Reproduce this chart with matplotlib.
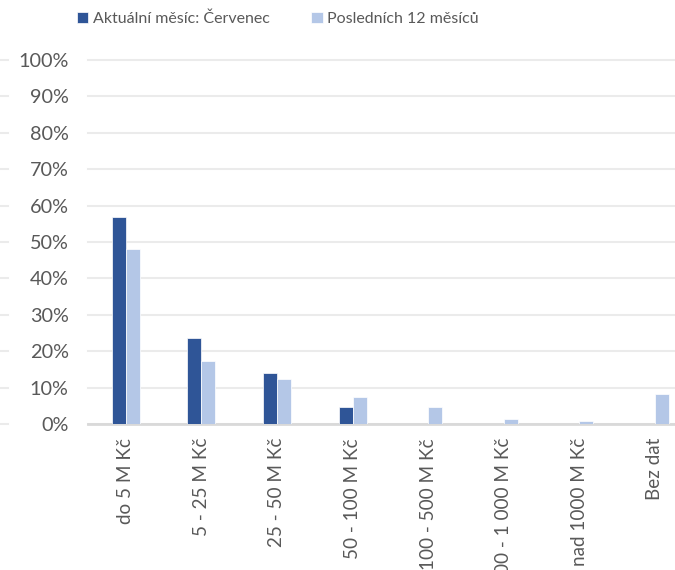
import matplotlib
matplotlib.use("Agg")
import matplotlib.pyplot as plt
import numpy as np
from matplotlib.ticker import PercentFormatter
from matplotlib import font_manager

categories = ["do 5 M Kč", "5 - 25 M Kč", "25 - 50 M Kč", "50 - 100 M Kč",
              "100 - 500 M Kč", "500 - 1 000 M Kč", "nad 1000 M Kč", "Bez dat"]
aktualni = [0.570, 0.235, 0.141, 0.046, 0.0, 0.0, 0.0, 0.0]
posledni = [0.481, 0.172, 0.123, 0.074, 0.047, 0.013, 0.008, 0.083]
series_names = ["Aktuální měsíc: Červenec", "Posledních 12 měsíců"]
yticks = [0, 0.1, 0.2, 0.3, 0.4, 0.5, 0.6, 0.7, 0.8, 0.9, 1.0]

DARK = "#2F5597"
LIGHT = "#B4C7E7"
GRID = "#EBEBEB"
TXT = "#595959"

plt.rcParams['font.family'] = ['Lato', 'DejaVu Sans']

names = {f.name for f in font_manager.fontManager.ttflist}
legend_family = ['Liberation Sans Narrow', 'Lato'] if 'Liberation Sans Narrow' in names else ['Lato']
legend_size = 12.5 if 'Liberation Sans Narrow' in names else 11.5

W, H = 675, 570
fig = plt.figure(figsize=(W / 100, H / 100), dpi=100)

left, right, top, bottom = 88, 675, 60, 424
ax = fig.add_axes([left / W, 1 - bottom / H, (right - left) / W, (bottom - top) / H])

spacing = 75.6
x = np.arange(len(categories))
bw = 14 / spacing
ax.bar(x - bw / 2, aktualni, bw, color=DARK, edgecolor="white", linewidth=0.5,
       label=series_names[0], zorder=3)
ax.bar(x + bw / 2, posledni, bw, color=LIGHT, edgecolor="white", linewidth=0.5,
       label=series_names[1], zorder=3)

ax.set_xlim(-0.5, -0.5 + (right - left) / spacing)
ax.set_ylim(0, 1.0)
ax.set_yticks(yticks)
ax.yaxis.set_major_formatter(PercentFormatter(1.0, decimals=0))
ax.set_xticks(x)
ax.set_xticklabels(categories, rotation=90, va="top", ha="center")

ax.tick_params(axis="y", length=0, pad=14, labelsize=14.3, labelcolor=TXT)
ax.tick_params(axis="x", length=0, pad=10, labelsize=13.6, labelcolor=TXT)

ax.grid(axis="y", color=GRID, linewidth=1.5, zorder=0)
for gl in ax.get_ygridlines():
    gl.set_clip_on(False)
for s in ["top", "right", "left"]:
    ax.spines[s].set_visible(False)
ax.spines["bottom"].set_color("#D9D9D9")
ax.spines["bottom"].set_linewidth(2)
ax.set_axisbelow(True)

# stubs of gridlines at far left edge
ax2 = fig.add_axes([0, 1 - bottom / H, 8 / W, (bottom - top) / H])
ax2.set_ylim(0, 1.0)
ax2.set_yticks(yticks)
ax2.set_xticks([])
ax2.grid(axis="y", color=GRID, linewidth=1.5)
for gl in ax2.get_ygridlines():
    gl.set_clip_on(False)
ax2.tick_params(axis="y", length=0, labelleft=False)
for s in ax2.spines.values():
    s.set_visible(False)
ax2.patch.set_alpha(0)

handles, labels = ax.get_legend_handles_labels()
fig.legend(handles, labels, loc="center", bbox_to_anchor=(278 / W, 1 - 19 / H),
           ncol=2, frameon=False, labelcolor=TXT,
           prop={'family': legend_family, 'size': legend_size},
           handlelength=0.7, handleheight=0.7, handletextpad=0.3, columnspacing=2.6)

fig.savefig("out.png", dpi=100)
